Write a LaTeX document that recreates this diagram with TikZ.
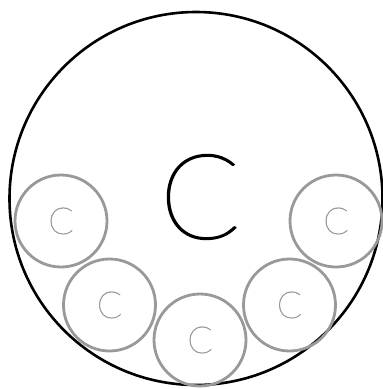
\documentclass[tikz,border=0pt]{standalone}
\usepackage{fontspec}
\setmainfont{Lato Hairline}[FakeBold=1.6]
\begin{document}
\begin{tikzpicture}[x=1pt,y=-1pt,
  outer/.style={circle,draw=black,line width=2.6pt,minimum size=373pt,inner sep=0pt},
  inner/.style={circle,draw=gray!80,line width=2.8pt,minimum size=92pt,inner sep=0pt,text=gray!80,font=\fontsize{37}{37}\selectfont}]
\useasboundingbox (0,0) rectangle (383,389);
\node[outer] (big) at (196,198.5) {};
\node[font=\fontsize{118}{118}\selectfont,inner sep=0pt] (bigC) at (200,197) {C};
\node[inner] (c1) at (61,221) {C};
\node[inner] (c2) at (109.5,305) {C};
\node[inner] (c3) at (200,340) {C};
\node[inner] (c4) at (289.5,305) {C};
\node[inner] (c5) at (336,221) {C};
\end{tikzpicture}
\end{document}
